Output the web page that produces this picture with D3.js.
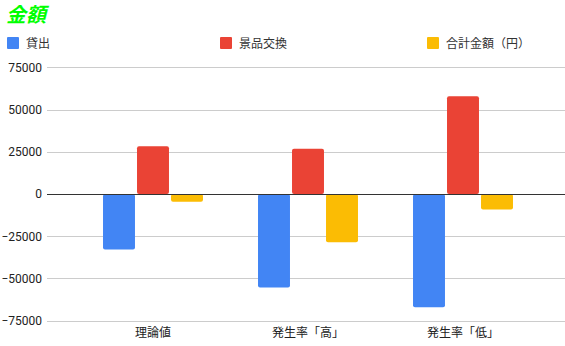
<!DOCTYPE html>
<html>
<head>
<meta charset="utf-8">
<script src="https://cdn.jsdelivr.net/npm/d3@7"></script>
<style>
  body { margin: 0; background: #fff; }
  text { font-family: Roboto, "Noto Sans CJK JP", sans-serif; }
</style>
</head>
<body>
<script>
const categories = ["理論値", "発生率「高」", "発生率「低」"];
const seriesNames = ["貸出", "景品交換", "合計金額（円）"];
const lending = [-32800, -55300, -67100];
const prizes = [28200, 26800, 57900];
const totals = [-4600, -28500, -9200];
const yTicks = [-75000, -50000, -25000, 0, 25000, 50000, 75000];
const colors = ["#4285f4", "#ea4335", "#fbbc04"];

const series = [lending, prizes, totals];
const W = 565, H = 346;
const margin = { top: 67, right: 0, bottom: 25, left: 47 };

const svg = d3.select("body").append("svg")
  .attr("width", W).attr("height", H);

svg.append("text")
  .attr("x", 6).attr("y", 22)
  .attr("fill", "#00ff00")
  .style("font-size", "20px").style("font-weight", "bold").style("font-style", "italic")
  .text("金額");

// legend
const legendX = [7, 220, 427];
seriesNames.forEach(function (name, i) {
  const g = svg.append("g").attr("transform", "translate(" + legendX[i] + ",37)");
  g.append("rect").attr("width", 12).attr("height", 12).attr("rx", 1).attr("fill", colors[i]);
  g.append("text").attr("x", 19).attr("y", 10.5)
    .attr("fill", "#333").style("font-size", "12px").text(name);
});

const y = d3.scaleLinear().domain([-75000, 75000]).range([320.7, 67.3]);
const x0 = d3.scaleBand().domain(categories).range([75.5, 540.5]).paddingInner(0.355).paddingOuter(0.1775);
const x1 = d3.scaleBand().domain(d3.range(series.length)).range([0, x0.bandwidth()]).paddingInner(0.06);

// gridlines
svg.append("g").selectAll("line").data(yTicks.filter(function (d) { return d !== 0; }))
  .join("line")
  .attr("x1", margin.left).attr("x2", W)
  .attr("y1", function (d) { return Math.round(y(d)) + 0.5; })
  .attr("y2", function (d) { return Math.round(y(d)) + 0.5; })
  .attr("stroke", "#cccccc");

// y axis labels
const yAxis = d3.axisLeft(y).tickValues(yTicks).tickSize(0).tickPadding(5).tickFormat(d3.format("d"));
const yNode = svg.append("g").attr("transform", "translate(" + margin.left + ",0)").call(yAxis);
yNode.select(".domain").remove();
yNode.selectAll("text").attr("fill", "#222").style("font-size", "12px")
  .style("font-family", "Roboto, sans-serif");

// bars
categories.forEach(function (cat, ci) {
  series.forEach(function (vals, si) {
    const v = vals[ci];
    svg.append("rect")
      .attr("x", x0(cat) + x1(si))
      .attr("width", x1.bandwidth())
      .attr("y", y(Math.max(0, v)))
      .attr("height", Math.abs(y(v) - y(0)))
      .attr("rx", 2)
      .attr("fill", colors[si]);
  });
});

// zero line
svg.append("line")
  .attr("x1", margin.left).attr("x2", W)
  .attr("y1", Math.round(y(0)) + 0.5).attr("y2", Math.round(y(0)) + 0.5)
  .attr("stroke", "#333").attr("stroke-width", 1);

// x axis labels
const xAxis = d3.axisBottom(x0).tickSize(0).tickPadding(6);
const xNode = svg.append("g").attr("transform", "translate(0,322)").call(xAxis);
xNode.select(".domain").remove();
xNode.selectAll("text").attr("fill", "#222").style("font-size", "12px")
  .style("font-family", "Roboto, 'Noto Sans CJK JP', sans-serif");
</script>
</body>
</html>
